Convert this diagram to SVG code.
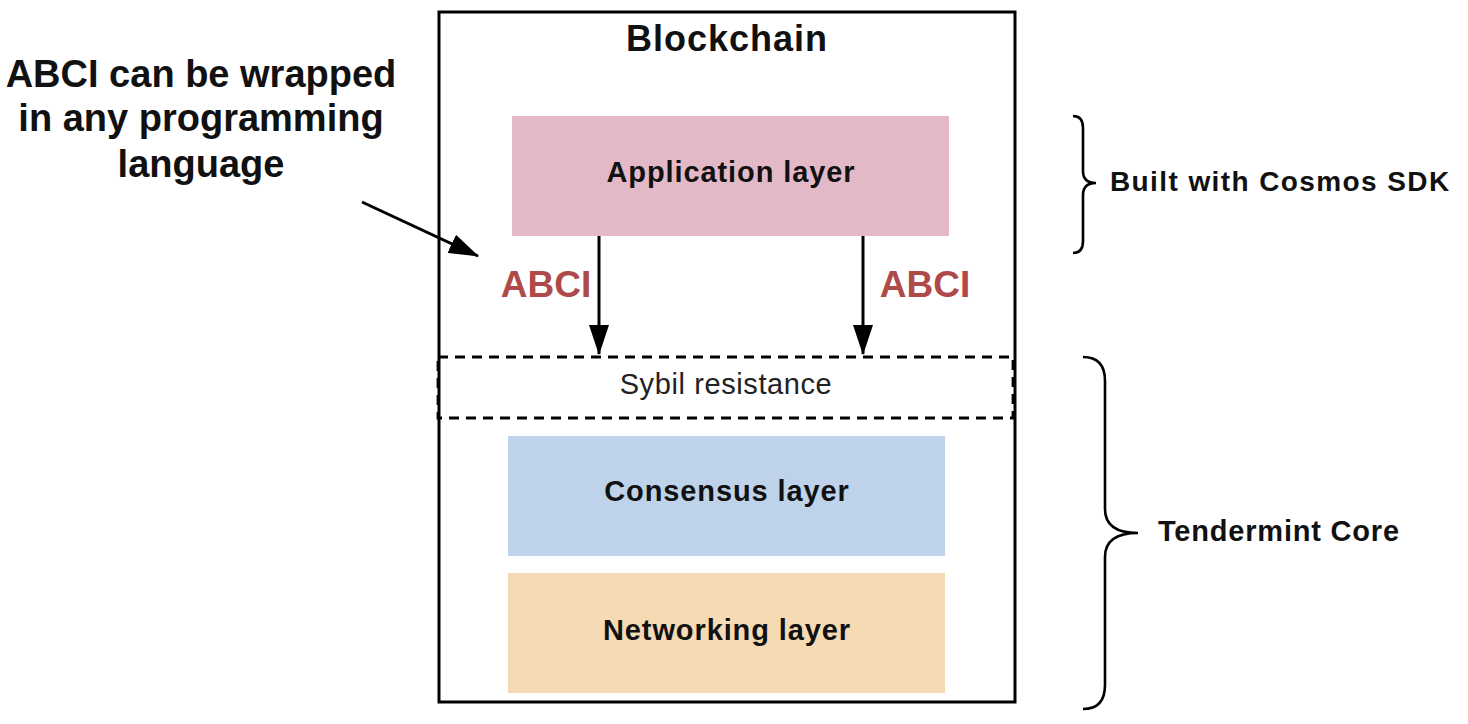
<svg xmlns="http://www.w3.org/2000/svg" width="1468" height="724" viewBox="0 0 1468 724">
  <style>
    .b { font-family: "Liberation Sans", Arial, sans-serif; font-weight: bold; fill: #111; }
    .lay { font-size: 29px; letter-spacing: 0.9px; text-anchor: middle; }
    .abci { font-family: "Liberation Sans", Arial, sans-serif; font-weight: bold; font-size: 37px; fill: #b04a4a; text-anchor: middle; }
    .note { font-size: 38px; text-anchor: middle; }
    .side { font-size: 28px; }
    .conn { stroke: #000; stroke-width: 3; fill: none; }
    .brace { stroke: #000; stroke-width: 2.6; fill: none; }
  </style>
  <defs>
    <marker id="ah" markerUnits="userSpaceOnUse" markerWidth="30" markerHeight="20" refX="29" refY="10" orient="auto">
      <path d="M0,0 L30,10 L0,20 z" fill="#000"/>
    </marker>
  </defs>
  <rect width="1468" height="724" fill="#fff"/>

  <g id="blockchain">
    <rect x="439" y="12" width="576" height="690" fill="none" stroke="#000" stroke-width="3"/>
    <text class="b" x="727" y="51" font-size="36" text-anchor="middle" letter-spacing="1">Blockchain</text>
  </g>

  <g id="application-layer">
    <rect x="512" y="116" width="437" height="120" fill="#e3b9c7"/>
    <text class="b lay" x="731" y="182">Application layer</text>
  </g>

  <g id="sybil-resistance">
    <rect x="438" y="357" width="575" height="61" fill="none" stroke="#000" stroke-width="2.8" stroke-dasharray="10,7"/>
    <text x="726" y="394" font-family="Liberation Sans, Arial, sans-serif" font-size="29" letter-spacing="0.6" fill="#222" text-anchor="middle">Sybil resistance</text>
  </g>

  <g id="consensus-layer">
    <rect x="508" y="436" width="437" height="120" fill="#bed3e9"/>
    <text class="b lay" x="727" y="501">Consensus layer</text>
  </g>

  <g id="networking-layer">
    <rect x="508" y="573" width="437" height="120" fill="#f5dab3"/>
    <text class="b lay" x="727" y="640">Networking layer</text>
  </g>

  <g id="note">
    <text class="b note" x="201" y="87">ABCI can be wrapped</text>
    <text class="b note" x="201" y="131">in any programming</text>
    <text class="b note" x="201" y="177">language</text>
  </g>

  <g id="cosmos-sdk">
    <path class="brace" d="M1073,116 Q1083,116 1083,128 L1083,171 Q1083,183 1096,183 Q1083,183 1083,195 L1083,241 Q1083,253 1073,253"/>
    <text class="b side" x="1110" y="191" letter-spacing="1.4">Built with Cosmos SDK</text>
  </g>

  <g id="tendermint-core">
    <path class="brace" d="M1083,357 Q1105,357 1105,381 L1105,509 Q1105,533 1138,533 Q1105,533 1105,557 L1105,685 Q1105,709 1083,709"/>
    <text class="b" x="1158" y="541" font-size="29" letter-spacing="0.8">Tendermint Core</text>
  </g>

  <g id="connectors">
    <line class="conn" x1="599" y1="236" x2="599" y2="354" marker-end="url(#ah)"/>
    <line class="conn" x1="863" y1="236" x2="863" y2="354" marker-end="url(#ah)"/>
    <line class="conn" x1="362" y1="202" x2="478" y2="256" marker-end="url(#ah)"/>
    <text class="abci" x="546" y="297">ABCI</text>
    <text class="abci" x="925" y="297">ABCI</text>
  </g>
</svg>
